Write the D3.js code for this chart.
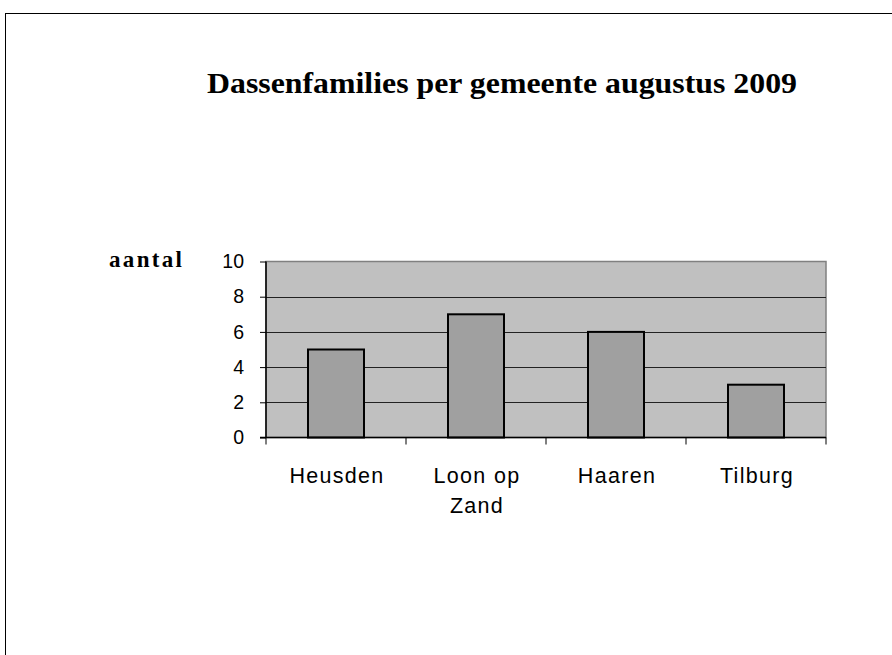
<!DOCTYPE html>
<html>
<head>
<meta charset="utf-8">
<script src="https://cdn.jsdelivr.net/npm/d3@7"></script>
<style>
html,body{margin:0;padding:0;background:#fff;}
svg{display:block;}
</style>
</head>
<body>
<svg id="chart" width="892" height="655"></svg>
<script>
const categories = ["Heusden", "Loon op Zand", "Haaren", "Tilburg"];
const categoryLines = [["Heusden"], ["Loon op", "Zand"], ["Haaren"], ["Tilburg"]];
const values = [5, 7, 6, 3];
const yTicks = [0, 2, 4, 6, 8, 10];
const titleText = "Dassenfamilies per gemeente augustus 2009";
const yAxisLabel = "aantal";

(function () {
const svg = d3.select("#chart");

// outer frame
svg.append("rect").attr("x", 5.5).attr("y", 13.5).attr("width", 900).attr("height", 700)
  .attr("fill", "#fff").attr("stroke", "#000").attr("stroke-width", 1);

const pLeft = 266, pRight = 826, pTop = 261.5, pBottom = 437.5;

const x = d3.scaleBand().domain(categories).range([pLeft, pRight]).paddingInner(0.6).paddingOuter(0.3);
const y = d3.scaleLinear().domain([0, 10]).range([pBottom, pTop]);

// plot background
svg.append("rect").attr("x", pLeft).attr("y", pTop).attr("width", pRight - pLeft).attr("height", pBottom - pTop)
  .attr("fill", "#c0c0c0").attr("stroke", "#808080").attr("stroke-width", 1.5);

// gridlines
svg.append("g").selectAll("line").data(yTicks.filter(d => d > 0 && d < 10)).join("line")
  .attr("x1", pLeft).attr("x2", pRight).attr("y1", d => Math.round(y(d)) + 0.5).attr("y2", d => Math.round(y(d)) + 0.5)
  .attr("stroke", "#222").attr("stroke-width", 1.2);

// bars
svg.append("g").selectAll("rect").data(values).join("rect")
  .attr("x", (d, i) => x(categories[i]))
  .attr("y", d => y(d))
  .attr("width", x.bandwidth())
  .attr("height", d => y(0) - y(d))
  .attr("fill", "#a0a0a0").attr("stroke", "#000").attr("stroke-width", 2);

// y axis
const yAxis = d3.axisLeft(y).tickValues(yTicks).tickSize(6).tickPadding(16).tickFormat(d3.format("d"));
const gy = svg.append("g").attr("transform", `translate(${pLeft},0)`).call(yAxis);
gy.select(".domain").attr("stroke", "#000").attr("stroke-width", 1.5).attr("d", `M0,${pTop}V${pBottom}`);
gy.selectAll(".tick line").attr("stroke", "#000");
gy.selectAll(".tick text").attr("font-family", "Liberation Sans, Arial, sans-serif").attr("font-size", 19.5).attr("fill", "#000");

// x axis
const xTickPos = d3.range(categories.length + 1).map(i => pLeft + i * x.step());
const gx = svg.append("g");
gx.append("line").attr("x1", pLeft - 6).attr("x2", pRight).attr("y1", pBottom).attr("y2", pBottom)
  .attr("stroke", "#000").attr("stroke-width", 1.5);
gx.selectAll("line.t").data(xTickPos).join("line").attr("class", "t")
  .attr("x1", d => d).attr("x2", d => d).attr("y1", pBottom).attr("y2", pBottom + 7)
  .attr("stroke", "#000").attr("stroke-width", 1);

const labels = svg.append("g").selectAll("text").data(categories).join("text")
  .attr("x", d => x(d) + x.bandwidth() / 2)
  .attr("y", 483)
  .attr("text-anchor", "middle")
  .attr("font-family", "Liberation Sans, Arial, sans-serif")
  .attr("font-size", 21.5)
  .attr("letter-spacing", 1.3)
  .attr("fill", "#000");
labels.each(function(d, i) {
  const t = d3.select(this);
  categoryLines[i].forEach((ln, j) => {
    t.append("tspan").attr("x", x(d) + x.bandwidth() / 2 + 1).attr("dy", j === 0 ? 0 : 30).text(ln);
  });
});

// title
svg.append("text").attr("x", 502).attr("y", 93).attr("text-anchor", "middle")
  .attr("font-family", "Liberation Serif, Times New Roman, serif").attr("font-weight", "bold")
  .attr("font-size", 30).attr("textLength", 590).attr("lengthAdjust", "spacingAndGlyphs").text(titleText);

// y axis label
svg.append("text").attr("x", 109).attr("y", 267)
  .attr("font-family", "Liberation Serif, Times New Roman, serif").attr("font-weight", "bold")
  .attr("font-size", 23).attr("textLength", 73).attr("lengthAdjust", "spacing").text(yAxisLabel);
})();
</script>
</body>
</html>
